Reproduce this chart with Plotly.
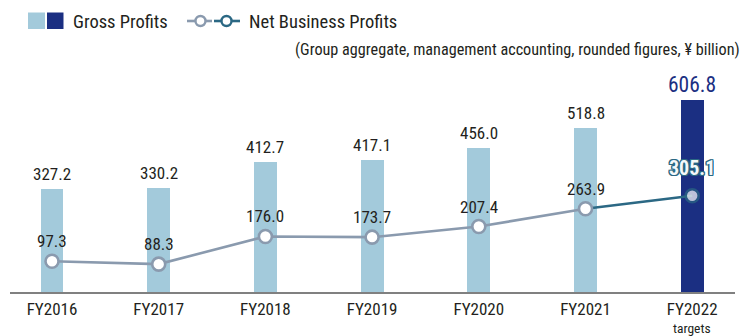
import plotly.graph_objects as go

# Data (¥ billion)
years = ["FY2016", "FY2017", "FY2018", "FY2019", "FY2020", "FY2021", "FY2022"]
gross_profits = [327.2, 330.2, 412.7, 417.1, 456.0, 518.8, 606.8]
net_business_profits = [97.3, 88.3, 176.0, 173.7, 207.4, 263.9, 305.1]

FONT = "Liberation Sans Narrow, Roboto Condensed, DejaVu Sans Condensed, Arial Narrow, sans-serif"
LIGHT_BLUE = "#a3cadb"
NAVY = "#1b2f82"
GREY_LINE = "#8a9aae"
TEAL = "#2b6884"
TEXT = "#231f20"

W, H = 745, 336
ML, MR, MT, MB = 10, 10, 60, 44
PW, PH = W - ML - MR, H - MT - MB


def px(x):
    return (x - ML) / PW


def py(y):
    return (H - MB - y) / PH


def outline(color, r=1.2):
    offs = [(r, 0), (-r, 0), (0, r), (0, -r), (r, r), (-r, -r), (r, -r), (-r, r)]
    return ", ".join(f"{a}px {b}px 0 {color}" for a, b in offs)


bar_colors = [LIGHT_BLUE] * (len(years) - 1) + [NAVY]

fig = go.Figure()
fig.add_trace(go.Bar(
    x=years, y=gross_profits, width=0.215,
    marker=dict(color=bar_colors, line=dict(width=0)),
    hoverinfo="skip", showlegend=False,
))

# Target segment (FY2021 -> FY2022) in teal
fig.add_trace(go.Scatter(
    x=years[-2:], y=net_business_profits[-2:], mode="lines+markers",
    line=dict(color=TEAL, width=2.6),
    marker=dict(size=[0, 13], color="white", line=dict(color=TEAL, width=2.6)),
    hoverinfo="skip", showlegend=False, cliponaxis=False,
))
# Actuals in grey-blue
fig.add_trace(go.Scatter(
    x=years[:-1], y=net_business_profits[:-1], mode="lines+markers",
    line=dict(color=GREY_LINE, width=2.6),
    marker=dict(size=13, color="white", line=dict(color=GREY_LINE, width=2.6)),
    hoverinfo="skip", showlegend=False, cliponaxis=False,
))

annotations = []
for i, (yr, v) in enumerate(zip(years, gross_profits)):
    last = i == len(years) - 1
    annotations.append(dict(
        x=yr, y=v, xref="x", yref="y", text=f"{v:.1f}", showarrow=False,
        yanchor="bottom", yshift=1 if last else 3,
        font=dict(family=FONT, size=21.5 if last else 17, color=NAVY if last else TEXT),
    ))
for i, (yr, v) in enumerate(zip(years, net_business_profits)):
    last = i == len(years) - 1
    font = dict(family=FONT, size=17, color=TEXT)
    if last:
        font = dict(family=FONT, size=20, color="#f4f8fa", weight="bold",
                    shadow=outline(TEAL))
    annotations.append(dict(
        x=yr, y=v, xref="x", yref="y", text=f"{v:.1f}", showarrow=False,
        yanchor="bottom", yshift=14 if last else 8, font=font,
    ))

# "targets" note under FY2022
annotations.append(dict(
    x=years[-1], y=py(328), xref="x", yref="paper", text="targets", showarrow=False,
    yanchor="middle", font=dict(family=FONT, size=13.5, color=TEXT),
))
# Units note
annotations.append(dict(
    x=px(742), y=py(50), xref="paper", yref="paper", xanchor="right", yanchor="middle",
    text="(Group aggregate, management accounting, rounded figures, ¥ billion)",
    showarrow=False, font=dict(family=FONT, size=16.2, color=TEXT),
))
# Legend labels
annotations.append(dict(
    x=px(71), y=py(22), xref="paper", yref="paper", xanchor="left", yanchor="middle",
    text="Gross Profits", showarrow=False, font=dict(family=FONT, size=18.5, color=TEXT),
))
annotations.append(dict(
    x=px(247), y=py(22), xref="paper", yref="paper", xanchor="left", yanchor="middle",
    text="Net Business Profits", showarrow=False, font=dict(family=FONT, size=18.5, color=TEXT),
))

shapes = [
    # legend swatches
    dict(type="rect", xref="paper", yref="paper", x0=px(28), x1=px(45), y0=py(29), y1=py(12.5),
         fillcolor=LIGHT_BLUE, line=dict(width=0)),
    dict(type="rect", xref="paper", yref="paper", x0=px(47), x1=px(63.5), y0=py(29), y1=py(12.5),
         fillcolor=NAVY, line=dict(width=0)),
    dict(type="line", xref="paper", yref="paper", x0=px(187), x1=px(212), y0=py(21), y1=py(21),
         line=dict(color=GREY_LINE, width=2.6)),
    dict(type="line", xref="paper", yref="paper", x0=px(214), x1=px(240), y0=py(21), y1=py(21),
         line=dict(color=TEAL, width=2.6)),
    dict(type="circle", xref="paper", yref="paper", x0=px(195.5), x1=px(205.5), y0=py(26), y1=py(16),
         fillcolor="white", line=dict(color=GREY_LINE, width=2.4)),
    dict(type="circle", xref="paper", yref="paper", x0=px(221.5), x1=px(231.5), y0=py(26), y1=py(16),
         fillcolor="white", line=dict(color=TEAL, width=2.4)),
]

# category 0 centred at x=52px, 106.7px per category
x_lo = (ML - 52) / 106.7
x_hi = x_lo + PW / 106.7

fig.update_layout(
    width=W, height=H,
    margin=dict(l=ML, r=MR, t=MT, b=MB),
    paper_bgcolor="white", plot_bgcolor="white",
    bargap=0, barmode="overlay",
    xaxis=dict(
        type="category", range=[x_lo, x_hi], showgrid=False, zeroline=False,
        showline=True, linecolor="#808080", linewidth=1.5, ticks="",
        tickfont=dict(family=FONT, size=17, color=TEXT), ticklabelstandoff=1,
    ),
    yaxis=dict(range=[0, 735], visible=False, showgrid=False, zeroline=False),
    annotations=annotations, shapes=shapes,
    font=dict(family=FONT, color=TEXT),
)

fig.write_html("out.html")
